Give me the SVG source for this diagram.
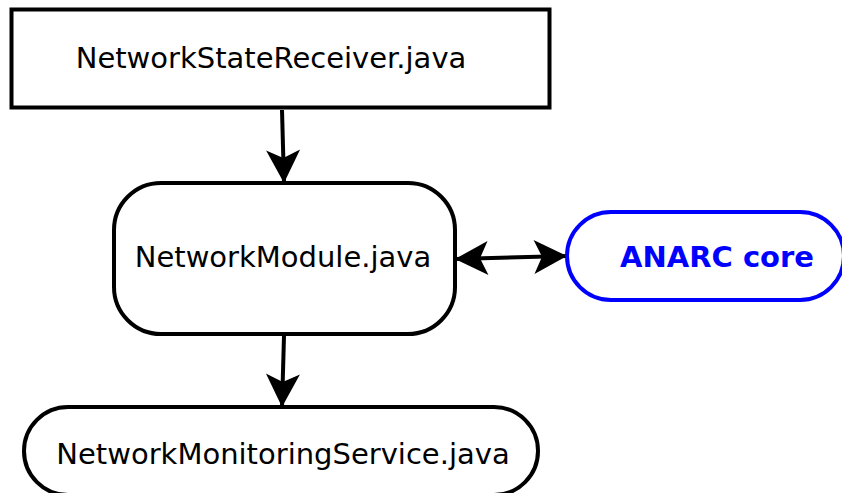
<svg xmlns="http://www.w3.org/2000/svg" width="842" height="493" viewBox="0 0 842 493">
  <defs>
    <style>
      .node { fill: #ffffff; stroke: #000000; stroke-width: 4; }
      .core { fill: #ffffff; stroke: #0000ff; stroke-width: 4; }
      .label { font-family: "DejaVu Sans", sans-serif; font-size: 29px; fill: #000000; text-anchor: middle; }
      .core-label { font-family: "DejaVu Sans", sans-serif; font-size: 29px; font-weight: bold; fill: #0000ff; text-anchor: middle; }
      .edge { fill: none; stroke: #000000; stroke-width: 4; }
    </style>
    <marker id="head" markerUnits="userSpaceOnUse" markerWidth="38" markerHeight="38" viewBox="-35 -19 38 38" refX="0" refY="0" orient="auto">
      <path d="M0,0 L-33,-17 L-25,0 L-33,17 Z" fill="#000000"/>
    </marker>
    <marker id="tail" markerUnits="userSpaceOnUse" markerWidth="38" markerHeight="38" viewBox="-3 -19 38 38" refX="0" refY="0" orient="auto">
      <path d="M0,0 L33,-17 L25,0 L33,17 Z" fill="#000000"/>
    </marker>
  </defs>

  <g id="connectors">
    <path class="edge" d="M282,110 L284,183" marker-end="url(#head)"/>
    <path class="edge" d="M284,336 L282,407" marker-end="url(#head)"/>
    <path class="edge" d="M455,259 L567,256" marker-start="url(#tail)" marker-end="url(#head)"/>
  </g>

  <g id="network-state-receiver">
    <rect class="node" x="11.5" y="9.5" width="538" height="98"/>
    <text class="label" x="271" y="68">NetworkStateReceiver.java</text>
  </g>

  <g id="network-module">
    <rect class="node" x="114" y="183" width="341" height="151" rx="47" ry="47"/>
    <text class="label" x="283" y="267">NetworkModule.java</text>
  </g>

  <g id="anarc-core">
    <rect class="core" x="567" y="212" width="277" height="88" rx="44" ry="44"/>
    <text class="core-label" x="717" y="267">ANARC core</text>
  </g>

  <g id="network-monitoring-service">
    <rect class="node" x="24" y="407" width="514" height="88" rx="44" ry="44"/>
    <text class="label" x="283" y="464">NetworkMonitoringService.java</text>
  </g>
</svg>
